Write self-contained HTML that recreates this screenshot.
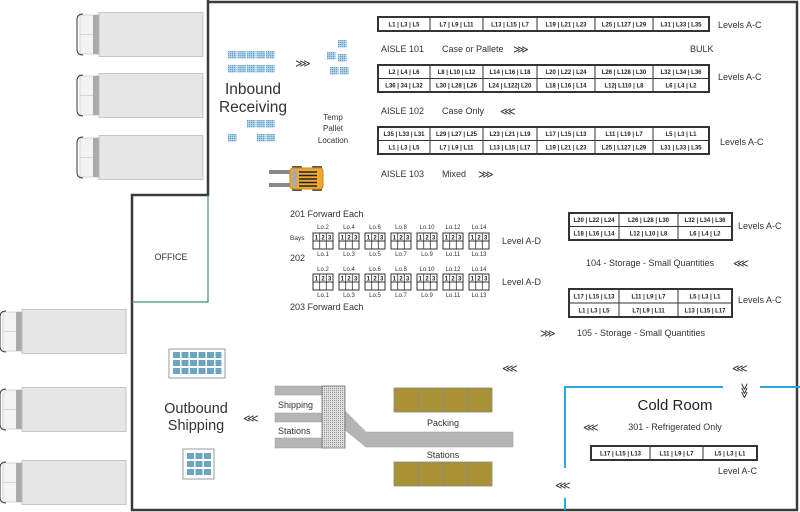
<!DOCTYPE html>
<html><head><meta charset="utf-8"><style>
html,body{margin:0;padding:0;background:#fff;}
svg{display:block;font-family:"Liberation Sans",sans-serif;}
.r{font-size:6px;font-weight:bold;fill:#222;text-anchor:middle;}
.t{font-size:9px;fill:#333;}
.ch{font-size:11px;fill:#333;}
.c{font-size:8px;fill:#333;}
.s{font-size:6px;fill:#333;text-anchor:middle;}
</style></head><body>
<svg width="800" height="512" viewBox="0 0 800 512" xmlns="http://www.w3.org/2000/svg">
<defs>
<pattern id="gp" width="2" height="2" patternUnits="userSpaceOnUse"><rect width="2" height="2" fill="#bcd9ec"/><rect width="1.2" height="1.2" fill="#5b9ec9"/></pattern>
<pattern id="mp" width="2" height="2" patternUnits="userSpaceOnUse"><rect width="2" height="2" fill="#ddd"/><rect width="1" height="1" fill="#999"/></pattern>
<g id="truck">
<rect x="4" y="3" width="19" height="39" fill="#f3f3f3" stroke="#ccc" stroke-width="0.8"/>
<line x1="4" y1="22.5" x2="17" y2="22.5" stroke="#ccc" stroke-width="0.8"/>
<path d="M7 2 Q1 2 1 8 V37 Q1 43 7 43" fill="none" stroke="#333" stroke-width="1"/>
<rect x="17" y="3" width="6" height="39" fill="#aaa"/>
<rect x="23" y="0.5" width="104" height="44" fill="#e6e6e6" stroke="#bbb" stroke-width="0.8"/>
</g>
<g id="gb"><rect width="8.5" height="7.5" fill="url(#gp)"/></g>
<g id="bay">
<rect x="0" y="0" width="20" height="8" fill="#fff" stroke="#333" stroke-width="1"/>
<rect x="0" y="8" width="20" height="8" fill="#fff" stroke="#333" stroke-width="1"/>
<line x1="6.7" y1="0" x2="6.7" y2="16" stroke="#333" stroke-width="0.8"/>
<line x1="13.3" y1="0" x2="13.3" y2="16" stroke="#333" stroke-width="0.8"/>
<text x="3.3" y="6.3" class="r" style="font-size:6px">1</text>
<text x="10" y="6.3" class="r" style="font-size:6px">2</text>
<text x="16.7" y="6.3" class="r" style="font-size:6px">3</text>
</g>
</defs>

<use href="#truck" x="76" y="12"/>
<use href="#truck" x="76" y="73"/>
<use href="#truck" x="76" y="135"/>
<use href="#truck" x="-1" y="309"/>
<use href="#truck" x="-1" y="387"/>
<use href="#truck" x="-1" y="460"/>

<path d="M208 0 V3 M208 2 H797 V510 H132 V195 H208 V2" fill="none" stroke="#3a3a3a" stroke-width="2.5"/>
<path d="M208 195 V302 H132" fill="none" stroke="#4a8a6e" stroke-width="1.2"/>
<text x="171" y="260" class="t" text-anchor="middle">OFFICE</text>

<g>
<use href="#gb" x="228" y="51"/><use href="#gb" x="237.5" y="51"/><use href="#gb" x="247" y="51"/><use href="#gb" x="256.5" y="51"/><use href="#gb" x="266" y="51"/>
<use href="#gb" x="228" y="65"/><use href="#gb" x="237.5" y="65"/><use href="#gb" x="247" y="65"/><use href="#gb" x="256.5" y="65"/><use href="#gb" x="266" y="65"/>
<use href="#gb" x="247" y="120"/><use href="#gb" x="256.5" y="120"/><use href="#gb" x="266" y="120"/>
<use href="#gb" x="228" y="134"/><use href="#gb" x="257" y="134"/><use href="#gb" x="266.5" y="134"/>
<use href="#gb" x="338" y="40"/><use href="#gb" x="327" y="52"/><use href="#gb" x="338" y="54"/><use href="#gb" x="330" y="67"/><use href="#gb" x="340" y="67"/>
</g>
<text x="253" y="94" text-anchor="middle" style="font-size:15.5px;fill:#333">Inbound</text>
<text x="253" y="112" text-anchor="middle" style="font-size:15.5px;fill:#333">Receiving</text>
<text x="303" y="67" class="ch" text-anchor="middle">⋙</text>
<text x="333" y="120" class="c" text-anchor="middle">Temp</text>
<text x="333" y="131" class="c" text-anchor="middle">Pallet</text>
<text x="333" y="143" class="c" text-anchor="middle">Location</text>
<rect x="269" y="170" width="22" height="4" fill="#888"/>
<rect x="269" y="183" width="22" height="4" fill="#888"/>
<rect x="292" y="166" width="10" height="4" rx="1" fill="#555"/><rect x="312" y="166" width="10" height="4" rx="1" fill="#555"/>
<rect x="292" y="187" width="10" height="4" rx="1" fill="#555"/><rect x="312" y="187" width="10" height="4" rx="1" fill="#555"/>
<rect x="290" y="168" width="33" height="21" rx="3" fill="#f0a830" stroke="#c98a1a"/>
<rect x="292" y="170" width="5" height="17" fill="#aaa"/>
<rect x="299" y="171" width="18" height="15" fill="#f0a830"/>
<g stroke="#222" stroke-width="1.6"><line x1="299" y1="172" x2="317" y2="172"/><line x1="299" y1="175.5" x2="317" y2="175.5"/><line x1="299" y1="179" x2="317" y2="179"/><line x1="299" y1="182.5" x2="317" y2="182.5"/><line x1="299" y1="186" x2="317" y2="186"/></g>

<g fill="#fff" stroke="#333" stroke-width="2">
<rect x="378" y="17" width="331" height="14"/>
<rect x="378" y="65" width="331" height="27"/>
<rect x="378" y="127" width="331" height="27"/>
</g>
<g stroke="#333" stroke-width="1">
<path d="M430 17V31M483 17V31M537 17V31M595 17V31M653 17V31"/>
<path d="M430 65V92M483 65V92M537 65V92M595 65V92M653 65V92M378 78.5H709"/>
<path d="M430 127V154M483 127V154M537 127V154M595 127V154M653 127V154M378 140.5H709"/>
</g>
<g>
<text x="404" y="26.5" class="r">L1 | L3 | L5</text><text x="456.5" y="26.5" class="r">L7 | L9 | L11</text><text x="510" y="26.5" class="r">L13 | L15 | L7</text><text x="566" y="26.5" class="r">L19 | L21 | L23</text><text x="624" y="26.5" class="r">L25 | L127 | L29</text><text x="681" y="26.5" class="r">L31 | L33 | L35</text>
<text x="404" y="74" class="r">L2 | L4 | L6</text><text x="456.5" y="74" class="r">L8 | L10 | L12</text><text x="510" y="74" class="r">L14 | L16 | L18</text><text x="566" y="74" class="r">L20 | L22 | L24</text><text x="624" y="74" class="r">L26 | L128 | L30</text><text x="681" y="74" class="r">L32 | L34 | L36</text>
<text x="404" y="87.5" class="r">L36 | 34 | L32</text><text x="456.5" y="87.5" class="r">L30 | L28 | L26</text><text x="510" y="87.5" class="r">L24 | L122| L20</text><text x="566" y="87.5" class="r">L18 | L16 | L14</text><text x="624" y="87.5" class="r">L12| L110 | L8</text><text x="681" y="87.5" class="r">L6 | L4 | L2</text>
<text x="404" y="136" class="r">L35 | L33 | L31</text><text x="456.5" y="136" class="r">L29 | L27 | L25</text><text x="510" y="136" class="r">L23 | L21 | L19</text><text x="566" y="136" class="r">L17 | L15 | L13</text><text x="624" y="136" class="r">L11 | L19 | L7</text><text x="681" y="136" class="r">L5 | L3 | L1</text>
<text x="404" y="149.5" class="r">L1 | L3 | L5</text><text x="456.5" y="149.5" class="r">L7 | L9 | L11</text><text x="510" y="149.5" class="r">L13 | L15 | L17</text><text x="566" y="149.5" class="r">L19 | L21 | L23</text><text x="624" y="149.5" class="r">L25 | L127 | L29</text><text x="681" y="149.5" class="r">L31 | L33 | L35</text>
</g>
<text x="718" y="28" class="t">Levels A-C</text>
<text x="718" y="80" class="t">Levels A-C</text>
<text x="720" y="145" class="t">Levels A-C</text>
<text x="381" y="52" class="t">AISLE 101</text><text x="442" y="52" class="t">Case or Pallete</text><text x="513" y="53" class="ch">⋙</text><text x="690" y="52" class="t">BULK</text>
<text x="381" y="114" class="t">AISLE 102</text><text x="442" y="114" class="t">Case Only</text><text x="500" y="115" class="ch">⋘</text>
<text x="381" y="177" class="t">AISLE 103</text><text x="442" y="177" class="t">Mixed</text><text x="478" y="178" class="ch">⋙</text>

<text x="290" y="217" class="t">201 Forward Each</text>
<text x="290" y="240" style="font-size:6.5px;fill:#333">Bays</text>
<text x="290" y="261" class="t">202</text>
<text x="290" y="310" class="t">203  Forward Each</text>
<g>
<use href="#bay" x="313" y="233"/><use href="#bay" x="339" y="233"/><use href="#bay" x="365" y="233"/><use href="#bay" x="391" y="233"/><use href="#bay" x="417" y="233"/><use href="#bay" x="443" y="233"/><use href="#bay" x="469" y="233"/>
<use href="#bay" x="313" y="274"/><use href="#bay" x="339" y="274"/><use href="#bay" x="365" y="274"/><use href="#bay" x="391" y="274"/><use href="#bay" x="417" y="274"/><use href="#bay" x="443" y="274"/><use href="#bay" x="469" y="274"/>
</g>
<g>
<text x="323" y="229" class="s">Lo.2</text><text x="349" y="229" class="s">Lo.4</text><text x="375" y="229" class="s">Lo.6</text><text x="401" y="229" class="s">Lo.8</text><text x="427" y="229" class="s">Lo.10</text><text x="453" y="229" class="s">Lo.12</text><text x="479" y="229" class="s">Lo.14</text>
<text x="323" y="256" class="s">Lo.1</text><text x="349" y="256" class="s">Lo.3</text><text x="375" y="256" class="s">Lo.5</text><text x="401" y="256" class="s">Lo.7</text><text x="427" y="256" class="s">Lo.9</text><text x="453" y="256" class="s">Lo.11</text><text x="479" y="256" class="s">Lo.13</text>
<text x="323" y="271" class="s">Lo.2</text><text x="349" y="271" class="s">Lo.4</text><text x="375" y="271" class="s">Lo.6</text><text x="401" y="271" class="s">Lo.8</text><text x="427" y="271" class="s">Lo.10</text><text x="453" y="271" class="s">Lo.12</text><text x="479" y="271" class="s">Lo.14</text>
<text x="323" y="297" class="s">Lo.1</text><text x="349" y="297" class="s">Lo.3</text><text x="375" y="297" class="s">Lo.5</text><text x="401" y="297" class="s">Lo.7</text><text x="427" y="297" class="s">Lo.9</text><text x="453" y="297" class="s">Lo.11</text><text x="479" y="297" class="s">Lo.13</text>
</g>
<text x="502" y="244" class="t">Level A-D</text>
<text x="502" y="285" class="t">Level A-D</text>

<g fill="#fff" stroke="#333" stroke-width="2">
<rect x="569" y="213" width="163" height="27"/>
<rect x="569" y="289" width="163" height="28"/>
</g>
<g stroke="#333" stroke-width="1">
<path d="M619 213V240M678 213V240M569 226.5H732"/>
<path d="M619 289V317M678 289V317M569 303H732"/>
</g>
<text x="594" y="222" class="r">L20 | L22 | L24</text><text x="648.5" y="222" class="r">L26 | L28 | L30</text><text x="705" y="222" class="r">L32 | L34 | L36</text>
<text x="594" y="235.5" class="r">L18 | L16 | L14</text><text x="648.5" y="235.5" class="r">L12 | L10 | L8</text><text x="705" y="235.5" class="r">L6 | L4 | L2</text>
<text x="594" y="298.5" class="r">L17 | L15 | L13</text><text x="648.5" y="298.5" class="r">L11 | L9 | L7</text><text x="705" y="298.5" class="r">L5 | L3 | L1</text>
<text x="594" y="312.5" class="r">L1 | L3 | L5</text><text x="648.5" y="312.5" class="r">L7| L9 | L11</text><text x="705" y="312.5" class="r">L13 | L15 | L17</text>
<text x="738" y="229" class="t">Levels A-C</text>
<text x="738" y="303" class="t">Levels A-C</text>
<text x="586" y="266" class="t">104 - Storage - Small Quantities</text><text x="733" y="267" class="ch">⋘</text>
<text x="540" y="337" class="ch">⋙</text><text x="577" y="336" class="t">105 - Storage - Small Quantities</text>
<text x="502" y="372" class="ch">⋘</text><text x="732" y="372" class="ch">⋘</text>

<path d="M723 387H565V468M565 498V510M760 387H800" fill="none" stroke="#29a8e0" stroke-width="2"/>
<text x="736" y="388" class="ch" transform="rotate(90 741 388)">⋙</text>
<text x="675" y="410" text-anchor="middle" style="font-size:15px;fill:#222">Cold Room</text>
<text x="675" y="430" class="t" text-anchor="middle">301 - Refrigerated Only</text>
<text x="583" y="431" class="ch">⋘</text>
<rect x="591" y="446" width="166" height="14" fill="#fff" stroke="#333" stroke-width="2"/>
<path d="M650 446V460M703 446V460" stroke="#333" stroke-width="1"/>
<text x="620.5" y="455.5" class="r">L17 | L15 | L13</text><text x="676.5" y="455.5" class="r">L11 | L9 | L7</text><text x="730" y="455.5" class="r">L5 | L3 | L1</text>
<text x="757" y="474" class="t" text-anchor="end">Level A-C</text>
<text x="555" y="489" class="ch">⋘</text>

<rect x="169" y="349" width="56" height="29" fill="#fff" stroke="#999" stroke-width="1"/>
<g fill="#6aa6c4">
<rect x="173" y="352" width="7" height="6"/><rect x="181.5" y="352" width="7" height="6"/><rect x="190" y="352" width="7" height="6"/><rect x="198.5" y="352" width="7" height="6"/><rect x="207" y="352" width="7" height="6"/><rect x="215.5" y="352" width="6" height="6"/>
<rect x="173" y="360" width="7" height="6"/><rect x="181.5" y="360" width="7" height="6"/><rect x="190" y="360" width="7" height="6"/><rect x="198.5" y="360" width="7" height="6"/><rect x="207" y="360" width="7" height="6"/><rect x="215.5" y="360" width="6" height="6"/>
<rect x="173" y="368" width="7" height="6"/><rect x="181.5" y="368" width="7" height="6"/><rect x="190" y="368" width="7" height="6"/><rect x="198.5" y="368" width="7" height="6"/><rect x="207" y="368" width="7" height="6"/><rect x="215.5" y="368" width="6" height="6"/>
</g>
<rect x="183" y="449" width="31" height="30" fill="#fff" stroke="#999" stroke-width="1"/>
<g fill="#6aa6c4">
<rect x="187" y="453" width="7" height="6"/><rect x="195.5" y="453" width="7" height="6"/><rect x="204" y="453" width="7" height="6"/>
<rect x="187" y="461" width="7" height="6"/><rect x="195.5" y="461" width="7" height="6"/><rect x="204" y="461" width="7" height="6"/>
<rect x="187" y="469" width="7" height="6"/><rect x="195.5" y="469" width="7" height="6"/><rect x="204" y="469" width="7" height="6"/>
</g>
<text x="196" y="413" text-anchor="middle" style="font-size:14.5px;fill:#333">Outbound</text>
<text x="196" y="430" text-anchor="middle" style="font-size:14.5px;fill:#333">Shipping</text>
<text x="243" y="422" class="ch">⋘</text>

<g fill="#b5b5b5" stroke="#999" stroke-width="0.5">
<rect x="275" y="386" width="48" height="9"/>
<rect x="275" y="413" width="48" height="9"/>
<rect x="275" y="438" width="48" height="10"/>
<polygon points="345,411 366,432 513,432 513,447 366,447 345,430"/>
</g>
<rect x="322" y="386" width="23" height="62" fill="url(#mp)" stroke="#777" stroke-width="0.8"/>
<text x="278" y="408" class="t">Shipping</text>
<text x="278" y="434" class="t">Stations</text>
<g fill="#a99235" stroke="#888" stroke-width="0.8">
<rect x="394" y="388" width="24.5" height="24"/><rect x="418.5" y="388" width="24.5" height="24"/><rect x="443" y="388" width="24.5" height="24"/><rect x="467.5" y="388" width="24.5" height="24"/>
<rect x="394" y="462" width="24.5" height="24"/><rect x="418.5" y="462" width="24.5" height="24"/><rect x="443" y="462" width="24.5" height="24"/><rect x="467.5" y="462" width="24.5" height="24"/>
</g>
<text x="443" y="426" class="t" text-anchor="middle">Packing</text>
<text x="443" y="458" class="t" text-anchor="middle">Stations</text>
</svg>
</body></html>
